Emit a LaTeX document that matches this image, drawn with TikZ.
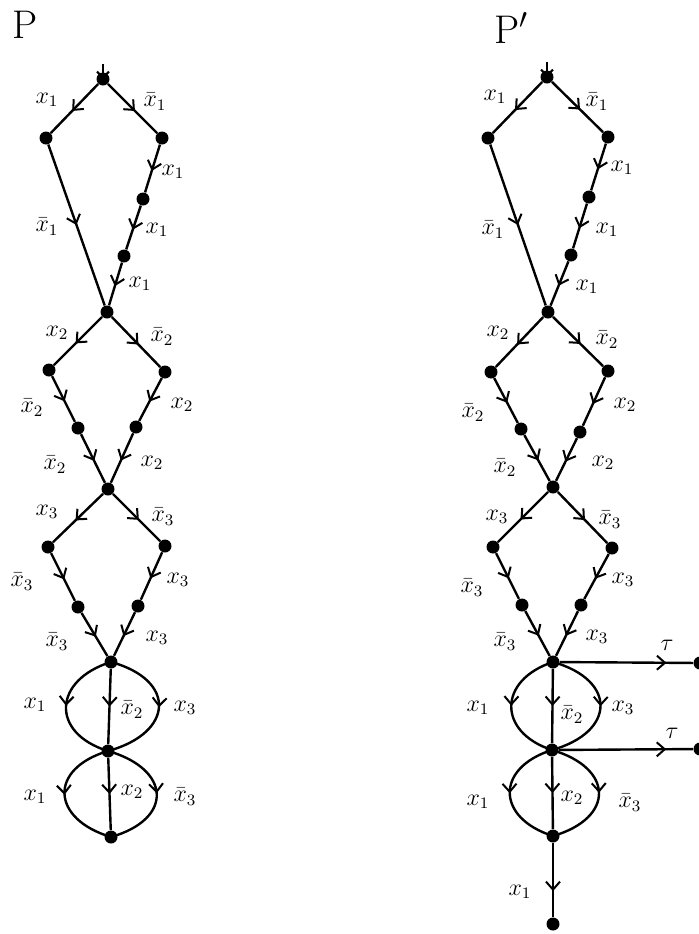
\documentclass[tikz,border=0pt]{standalone}
\usetikzlibrary{arrows.meta,decorations.markings}
\tikzset{
  dot/.style={circle,fill,inner sep=0pt,minimum size=6.5pt},
  lbl/.style={inner sep=0pt,font=\fontsize{12}{14}\selectfont},
  ttl/.style={inner sep=0pt,font=\fontsize{20}{24}\selectfont},
  edge/.style={line width=1.2pt},
  marr/.style={edge,postaction={decorate,decoration={markings,mark=at position #1 with {\arrow{Straight Barb[length=4pt,width=7pt,line width=1pt]}}}}},
  marr/.default=0.55,
  intip/.style={edge,-{Straight Barb[length=3pt,width=6pt,line width=1pt]}},
}
\begin{document}
\begin{tikzpicture}[x=0.5pt,y=-0.5pt]
\useasboundingbox (0,0) rectangle (699,934);

% ---------------- P ----------------
\node[ttl] (pP) at (25,25) {P};
\node[dot] (pt) at (103,79) {};
\node[dot] (pl) at (46,138) {};
\node[dot] (pr) at (162,138) {};
\node[dot] (pc1) at (143,199) {};
\node[dot] (pc2) at (124,256) {};
\node[dot] (pj1) at (107,312) {};
\node[dot] (pl2) at (49,370) {};
\node[dot] (pr2) at (165,372) {};
\node[dot] (pl3) at (78,428) {};
\node[dot] (pr3) at (136,427) {};
\node[dot] (pj2) at (108,489) {};
\node[dot] (pl4) at (48,547) {};
\node[dot] (pr4) at (165,546) {};
\node[dot] (pl5) at (78,607) {};
\node[dot] (pr5) at (138,606) {};
\node[dot] (pj3) at (111,662) {};
\node[dot] (pj4) at (108,751) {};
\node[dot] (pj5) at (111,837) {};
\coordinate (pin) at (103,64);

\draw[intip] (pin) -- (pt.center);
\draw[marr] (pt) -- (pl);
\draw[marr] (pt) -- (pr);
\draw[marr=0.5] (pl) -- (pj1);
\draw[marr] (pr) -- (pc1);
\draw[marr] (pc1) -- (pc2);
\draw[marr] (pc2) -- (pj1);
\draw[marr] (pj1) -- (pl2);
\draw[marr] (pj1) -- (pr2);
\draw[marr] (pl2) -- (pl3);
\draw[marr] (pr2) -- (pr3);
\draw[marr] (pl3) -- (pj2);
\draw[marr] (pr3) -- (pj2);
\draw[marr] (pj2) -- (pl4);
\draw[marr] (pj2) -- (pr4);
\draw[marr] (pl4) -- (pl5);
\draw[marr] (pr4) -- (pr5);
\draw[marr] (pl5) -- (pj3);
\draw[marr] (pr5) -- (pj3);
\draw[marr=0.5] (pj3) -- (pj4);
\draw[marr=0.5] (pj3.center) .. controls +(-58,18) and +(-58,-18) .. (pj4.center);
\draw[marr=0.5] (pj3.center) .. controls +(66,18) and +(66,-18) .. (pj4.center);
\draw[marr=0.5] (pj4) -- (pj5);
\draw[marr=0.5] (pj4.center) .. controls +(-60,18) and +(-60,-18) .. (pj5.center);
\draw[marr=0.5] (pj4.center) .. controls +(63,18) and +(63,-18) .. (pj5.center);

\node[lbl] at (47,100) {$x_1$};
\node[lbl] at (155,102) {$\bar{x}_1$};
\node[lbl] at (173,172) {$x_1$};
\node[lbl] at (47,227) {$\bar{x}_1$};
\node[lbl] at (157,230) {$x_1$};
\node[lbl] at (140,284) {$x_1$};
\node[lbl] at (57,333) {$x_2$};
\node[lbl] at (162,337) {$\bar{x}_2$};
\node[lbl] at (32,408) {$\bar{x}_2$};
\node[lbl] at (182,405) {$x_2$};
\node[lbl] at (55,465) {$\bar{x}_2$};
\node[lbl] at (152,463) {$x_2$};
\node[lbl] at (47,512) {$x_3$};
\node[lbl] at (163,517) {$\bar{x}_3$};
\node[lbl] at (22,582) {$\bar{x}_3$};
\node[lbl] at (178,580) {$x_3$};
\node[lbl] at (57,642) {$\bar{x}_3$};
\node[lbl] at (157,638) {$x_3$};
\node[lbl] at (35,705) {$x_1$};
\node[lbl] at (132,710) {$\bar{x}_2$};
\node[lbl] at (185,708) {$x_3$};
\node[lbl] at (35,797) {$x_1$};
\node[lbl] at (132,792) {$x_2$};
\node[lbl] at (185,797) {$\bar{x}_3$};

% ---------------- P' ----------------
\node[ttl,anchor=west] (qP) at (494,28) {P$'$};
\node[dot] (qt) at (547,77) {};
\node[dot] (ql) at (488,138) {};
\node[dot] (qr) at (608,137) {};
\node[dot] (qc1) at (589,197) {};
\node[dot] (qc2) at (571,255) {};
\node[dot] (qj1) at (548,312) {};
\node[dot] (ql2) at (491,372) {};
\node[dot] (qr2) at (608,371) {};
\node[dot] (ql3) at (521,429) {};
\node[dot] (qr3) at (580,432) {};
\node[dot] (qj2) at (553,487) {};
\node[dot] (ql4) at (493,547) {};
\node[dot] (qr4) at (612,548) {};
\node[dot] (ql5) at (522,605) {};
\node[dot] (qr5) at (581,605) {};
\node[dot] (qj3) at (553,662) {};
\node[dot] (qj4) at (552,750) {};
\node[dot] (qj5) at (553,836) {};
\node[dot] (qb) at (553,924) {};
\node[dot] (qt1) at (700,663) {};
\node[dot] (qt2) at (700,749) {};
\coordinate (qin) at (547,62);

\draw[intip] (qin) -- (qt.center);
\draw[marr] (qt) -- (ql);
\draw[marr] (qt) -- (qr);
\draw[marr=0.5] (ql) -- (qj1);
\draw[marr] (qr) -- (qc1);
\draw[marr] (qc1) -- (qc2);
\draw[marr] (qc2) -- (qj1);
\draw[marr] (qj1) -- (ql2);
\draw[marr] (qj1) -- (qr2);
\draw[marr] (ql2) -- (ql3);
\draw[marr] (qr2) -- (qr3);
\draw[marr] (ql3) -- (qj2);
\draw[marr] (qr3) -- (qj2);
\draw[marr] (qj2) -- (ql4);
\draw[marr] (qj2) -- (qr4);
\draw[marr] (ql4) -- (ql5);
\draw[marr] (qr4) -- (qr5);
\draw[marr] (ql5) -- (qj3);
\draw[marr] (qr5) -- (qj3);
\draw[marr=0.5] (qj3) -- (qj4);
\draw[marr=0.5] (qj3.center) .. controls +(-55,18) and +(-55,-18) .. (qj4.center);
\draw[marr=0.5] (qj3.center) .. controls +(64,18) and +(64,-18) .. (qj4.center);
\draw[marr=0.5] (qj4) -- (qj5);
\draw[marr=0.5] (qj4.center) .. controls +(-57,18) and +(-57,-18) .. (qj5.center);
\draw[marr=0.5] (qj4.center) .. controls +(62,18) and +(62,-18) .. (qj5.center);
\draw[marr=0.65] (qj5) -- (qb);
\draw[marr=0.8] (qj3) -- (qt1);
\draw[marr=0.8] (qj4) -- (qt2);

\node[lbl] at (495,97) {$x_1$};
\node[lbl] at (597,102) {$\bar{x}_1$};
\node[lbl] at (622,168) {$x_1$};
\node[lbl] at (493,230) {$\bar{x}_1$};
\node[lbl] at (607,230) {$x_1$};
\node[lbl] at (587,287) {$x_1$};
\node[lbl] at (498,333) {$x_2$};
\node[lbl] at (607,340) {$\bar{x}_2$};
\node[lbl] at (473,413) {$\bar{x}_2$};
\node[lbl] at (625,405) {$x_2$};
\node[lbl] at (505,468) {$\bar{x}_2$};
\node[lbl] at (603,463) {$x_2$};
\node[lbl] at (497,517) {$x_3$};
\node[lbl] at (610,520) {$\bar{x}_3$};
\node[lbl] at (472,588) {$\bar{x}_3$};
\node[lbl] at (623,580) {$x_3$};
\node[lbl] at (505,642) {$\bar{x}_3$};
\node[lbl] at (597,637) {$x_3$};
\node[lbl] at (667,645) {$\tau$};
\node[lbl] at (478,708) {$x_1$};
\node[lbl] at (572,715) {$\bar{x}_2$};
\node[lbl] at (623,708) {$x_3$};
\node[lbl] at (672,733) {$\tau$};
\node[lbl] at (478,802) {$x_1$};
\node[lbl] at (572,798) {$x_2$};
\node[lbl] at (630,803) {$\bar{x}_3$};
\node[lbl] at (520,892) {$x_1$};
\end{tikzpicture}
\end{document}
